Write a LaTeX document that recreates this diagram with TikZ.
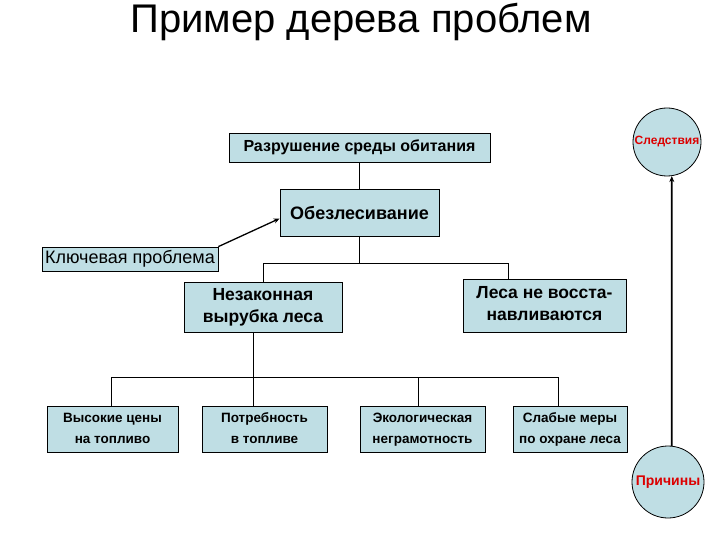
\documentclass[tikz,border=0pt]{standalone}
\usepackage{fontspec}
\setmainfont{Liberation Sans}
\usetikzlibrary{arrows.meta}
\definecolor{boxfill}{RGB}{191,222,228}
\definecolor{labred}{RGB}{220,0,0}
\tikzset{
  pbox/.style={draw=black, line width=0.8pt, fill=boxfill, inner sep=0pt, align=center, font=\bfseries},
  circ/.style={draw=black, line width=0.8pt, fill=boxfill, circle, inner sep=0pt, text=labred},
  conn/.style={draw=black, line width=0.8pt},
  lowbox/.style={pbox, minimum height=46pt, font=\bfseries\fontsize{13.5}{21}\selectfont},
}
\begin{document}
\begin{tikzpicture}[x=1pt,y=-1pt]
\useasboundingbox (0,0) rectangle (720,540);
\node (title) at (361,22) {\fontsize{40}{43}\selectfont Пример дерева проблем};
\node[pbox, minimum width=261pt, minimum height=29pt, font=\bfseries\fontsize{16}{18}\selectfont] (b1) at (359.5,147.5) {Разрушение среды обитания};
\node[pbox, minimum width=159pt, minimum height=47pt, font=\bfseries\fontsize{18}{21}\selectfont] (b2) at (359.5,212.5) {Обезлесивание};
\node[pbox, minimum width=176pt, minimum height=24pt, font=\fontsize{18}{20}\selectfont] (key) at (130,259) {Ключевая проблема};
\node[pbox, minimum width=158pt, minimum height=50pt, font=\bfseries\fontsize{17.5}{22}\selectfont] (bl) at (263,307) {\strut Незаконная\\\strut вырубка леса};
\node[pbox, minimum width=163pt, minimum height=53pt, font=\bfseries\fontsize{17.5}{22}\selectfont] (br) at (544.5,305.5) {\strut Леса не восста-\\\strut навливаются};
\node[lowbox, minimum width=131pt] (a) at (112.5,429) {\strut Высокие цены\\\strut на топливо};
\node[lowbox, minimum width=125pt] (b) at (264.5,429) {\strut Потребность\\\strut в топливе};
\node[lowbox, minimum width=125pt] (c) at (422.5,429) {\strut Экологическая\\\strut неграмотность};
\node[lowbox, minimum width=114pt] (d) at (570,429) {\strut Слабые меры\\\strut по охране леса};
\node[circ, minimum size=68pt, font=\bfseries\fontsize{12}{14}\selectfont] (ct) at (667,142) {Следствия};
\node[circ, minimum size=72pt, font=\bfseries\fontsize{14}{16}\selectfont] (cb) at (668,482) {Причины};
% connectors
\draw[conn] (b1.south) -- (b2.north);
\coordinate (j1) at (359.5,263);
\coordinate (jl) at (263,263);
\coordinate (jr) at (508,263);
\draw[conn] (b2.south) -- (j1);
\draw[conn] (jl |- bl.north) -- (jl) -- (jr) -- (jr |- br.north);
\coordinate (ja) at (111,377);
\coordinate (jb) at (253,377);
\coordinate (jc) at (418,377);
\coordinate (jd) at (558,377);
\draw[conn] (jb |- bl.south) -- (jb);
\draw[conn] (ja |- a.north) -- (ja) -- (jd) -- (jd |- d.north);
\draw[conn] (jb) -- (jb |- b.north);
\draw[conn] (jc) -- (jc |- c.north);
\draw[line width=1.3pt, -{Stealth[length=6pt,width=5pt]}] (key.north east) -- ([yshift=-6pt]b2.west);
\draw[line width=1.8pt, -{Stealth[length=6pt,width=5pt]}] (cb.84) -- (ct.-82);
\end{tikzpicture}
\end{document}
